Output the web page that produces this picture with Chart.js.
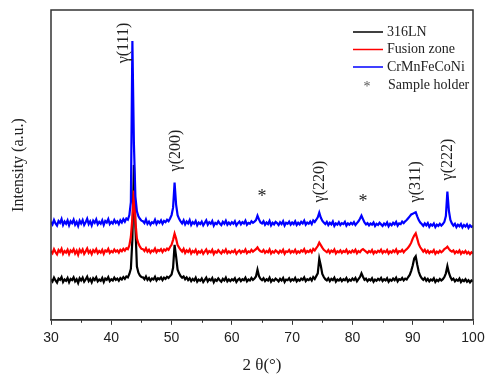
<!DOCTYPE html>
<html>
<head>
<meta charset="utf-8">
<script src="https://cdn.jsdelivr.net/npm/chart.js@4.4.1/dist/chart.umd.min.js"></script>
<style>
    html, body { margin: 0; padding: 0; background: #fff; }
    #wrap { width: 494px; height: 384px; }
</style>
</head>
<body>
<div id="wrap"><canvas id="xrdChart" width="494" height="384"></canvas></div>
<script>
// =====================
// DATA (2θ from 30 to 100, step 0.25)
// =====================
const angleStart = 30;
const angleStep  = 0.25;

const seriesNames  = ['316LN', 'Fusion zone', 'CrMnFeCoNi'];
const seriesColors = ['#000000', '#ff0000', '#0000ff'];

const ln316 = [
    131,124,136,127,120,133,129,138,122,130,126,135,121,132,128,137,124,131,119,134,
    127,136,123,130,139,125,132,121,134,128,137,124,130,126,135,122,133,129,138,125,
    131,127,136,129,133,126,135,130,138,132,140,137,148,165,260,500,300,172,152,143,
    138,137,131,140,129,135,126,133,130,139,127,134,131,137,128,136,132,139,135,141,
    146,168,242,205,162,150,141,136,140,131,137,128,134,125,132,127,136,123,130,126,
    133,122,129,136,124,131,127,135,121,130,126,134,128,123,132,127,136,124,130,125,
    131,127,134,122,129,133,125,131,128,136,124,130,127,135,129,133,140,162,141,132,
    128,134,125,131,127,136,123,130,126,133,129,124,132,127,135,122,130,128,134,125,
    131,127,135,124,130,126,133,129,137,125,131,128,134,127,138,132,141,150,197,175,
    148,138,131,127,134,125,132,128,136,123,130,127,133,125,131,128,135,124,130,126,
    133,128,135,124,131,138,150,139,129,133,125,131,127,134,123,130,126,132,128,135,
    125,131,127,134,123,130,126,133,128,136,124,131,129,135,127,133,130,138,145,158,
    175,198,205,178,155,142,134,129,135,126,132,124,130,127,134,122,129,125,132,127,
    131,138,150,173,152,138,129,133,124,130,126,133,122,129,125,131,123,128,121,127,
    124
];

const fusionZone = [
    222,215,228,218,211,225,219,229,213,222,217,226,212,224,219,228,214,223,210,226,
    218,227,213,221,230,216,223,212,225,219,228,215,222,217,226,213,224,220,229,216,
    222,218,227,220,224,217,226,221,229,223,231,228,240,268,330,417,318,262,246,236,
    229,228,222,231,220,226,217,224,221,230,218,225,222,228,219,227,223,230,226,235,
    242,258,278,262,241,233,226,220,229,216,224,219,227,214,222,218,226,213,221,217,
    224,213,220,227,215,222,218,226,212,221,217,225,219,214,223,218,227,215,221,216,
    222,218,225,213,220,224,216,222,219,227,215,221,218,226,220,224,228,234,226,221,
    219,225,216,222,218,227,214,221,217,224,220,215,223,218,226,213,221,219,225,216,
    222,218,226,215,221,217,224,220,228,216,222,219,225,218,229,224,231,238,249,241,
    233,226,222,218,225,216,223,219,227,214,221,218,224,216,222,219,226,215,221,217,
    224,219,226,215,222,218,225,228,224,220,216,222,218,225,214,221,217,223,219,226,
    216,222,218,225,214,221,217,224,219,227,215,222,220,226,218,224,228,233,240,249,
    262,272,279,262,244,234,227,220,226,217,223,215,221,218,225,213,220,216,223,218,
    222,228,231,236,229,223,220,224,215,221,217,224,213,220,216,222,214,219,212,218,
    215
];

const crMnFeCoNi = [
    316,308,322,311,304,319,313,325,306,317,310,321,305,318,312,323,307,316,303,320,
    311,322,306,315,326,309,318,305,320,313,324,308,316,310,321,306,319,314,325,309,
    316,311,322,313,318,309,321,314,325,317,327,323,338,380,900,570,398,350,334,326,
    320,318,312,324,310,317,307,315,312,323,309,318,313,321,310,319,315,323,318,327,
    338,362,443,372,338,326,318,311,321,308,317,311,322,306,315,310,319,305,314,309,
    317,305,313,321,307,315,310,319,304,313,309,318,311,306,316,310,320,307,314,308,
    315,310,318,305,312,317,308,315,311,320,307,313,310,318,313,317,322,336,324,314,
    311,318,307,314,309,319,305,313,308,316,312,306,315,309,318,304,313,310,317,307,
    314,309,318,306,313,308,316,311,320,307,314,310,317,309,321,316,323,331,346,330,
    320,314,309,316,306,313,308,317,303,311,307,315,306,312,309,316,304,311,307,313,
    308,315,306,312,318,326,336,325,314,308,312,305,311,307,314,303,310,306,313,308,
    303,311,306,314,302,310,305,313,308,316,304,311,309,317,312,318,322,328,334,340,
    342,345,347,334,322,314,309,303,311,305,312,300,308,304,311,299,307,303,310,304,
    309,316,335,414,352,322,311,304,310,299,307,302,309,298,306,301,308,297,305,300,
    303
];

// peak labels: text, 2θ, level where the text starts
const peakLabels = ['γ(111)', 'γ(200)', 'γ(220)', 'γ(311)', 'γ(222)'];
const peakAngles = [42.0, 50.7, 74.6, 90.5, 95.85];
const peakLevels = [828, 479, 379, 379, 450];

// sample holder marks
const holderAngles = [65.0, 81.75];
const holderLevels = [408, 392];

const xTicks = [30, 40, 50, 60, 70, 80, 90, 100];

function toPoints(values) {
    return values.map((v, i) => ({ x: angleStart + i * angleStep, y: v }));
}

// =====================
// EXTRA DRAWING
// =====================
const decorPlugin = {
    id: 'decor',
    afterDraw(chart) {
        const { ctx, chartArea: a, scales: { x, y } } = chart;
        ctx.save();

        // frame
        ctx.strokeStyle = '#333';
        ctx.lineWidth = 1.5;
        ctx.strokeRect(a.left, a.top, a.right - a.left, a.bottom - a.top);

        // minor ticks
        ctx.lineWidth = 1;
        for (let v = 35; v < 100; v += 10) {
            const px = Math.round(x.getPixelForValue(v)) + 0.5;
            ctx.beginPath();
            ctx.moveTo(px, a.bottom);
            ctx.lineTo(px, a.bottom + 3);
            ctx.stroke();
        }

        // peak labels
        ctx.fillStyle = '#222';
        ctx.font = '16px "Liberation Serif"';
        ctx.textAlign = 'left';
        ctx.textBaseline = 'middle';
        peakLabels.forEach((label, i) => {
            ctx.save();
            ctx.translate(x.getPixelForValue(peakAngles[i]), y.getPixelForValue(peakLevels[i]));
            ctx.rotate(-Math.PI / 2);
            ctx.fillText(label, 0, 0);
            ctx.restore();
        });

        // sample holder asterisks
        ctx.textAlign = 'center';
        ctx.font = '18px "Liberation Serif"';
        holderAngles.forEach((a2, i) => {
            ctx.fillText('*', x.getPixelForValue(a2), y.getPixelForValue(holderLevels[i]) + 4);
        });

        // y title
        ctx.save();
        ctx.translate(19, 165);
        ctx.rotate(-Math.PI / 2);
        ctx.textAlign = 'center';
        ctx.font = '16px "Liberation Serif"';
        ctx.fillText('Intensity (a.u.)', 0, 0);
        ctx.restore();

        // legend
        ctx.font = '14px "Liberation Serif"';
        ctx.textAlign = 'left';
        seriesNames.forEach((name, i) => {
            const ly = 32 + i * 17.5;
            ctx.strokeStyle = seriesColors[i];
            ctx.lineWidth = 1.5;
            ctx.beginPath();
            ctx.moveTo(353, ly);
            ctx.lineTo(383, ly);
            ctx.stroke();
            ctx.fillStyle = '#222';
            ctx.fillText(name, 387, ly);
        });
        ctx.fillStyle = '#555';
        ctx.textAlign = 'center';
        ctx.fillText('*', 367, 87);
        ctx.textAlign = 'left';
        ctx.fillStyle = '#222';
        ctx.fillText('Sample holder', 388, 85);

        ctx.restore();
    }
};

// =====================
// RENDER CHART
// =====================
const seriesValues = [ln316, fusionZone, crMnFeCoNi];

new Chart(document.getElementById('xrdChart').getContext('2d'), {
    type: 'line',
    data: {
        datasets: seriesValues.map((vals, i) => ({
            label: seriesNames[i],
            data: toPoints(vals),
            borderColor: seriesColors[i],
            borderWidth: 2.2,
            pointRadius: 0,
            tension: 0,
            order: 2 - i,
        }))
    },
    options: {
        responsive: false,
        animation: false,
        devicePixelRatio: 1,
        layout: { padding: { left: 51, right: 21, top: 10, bottom: 8 } },
        plugins: {
            legend: { display: false },
            tooltip: { enabled: false },
        },
        scales: {
            x: {
                type: 'linear',
                min: 30,
                max: 100,
                afterBuildTicks: axis => { axis.ticks = xTicks.map(v => ({ value: v })); },
                ticks: {
                    font: { family: '"Liberation Sans"', size: 14 },
                    color: '#222',
                    padding: 5,
                    maxRotation: 0,
                },
                grid: { drawOnChartArea: false, tickLength: 5, color: '#333' },
                border: { color: '#333', width: 1.5 },
                title: {
                    display: true,
                    text: '2 θ(°)',
                    font: { family: '"Liberation Serif"', size: 17 },
                    color: '#222',
                    padding: { top: 4, bottom: 0 },
                },
            },
            y: {
                display: false,
                min: 0,
                max: 1000,
            }
        }
    },
    plugins: [decorPlugin]
});
</script>
</body>
</html>
